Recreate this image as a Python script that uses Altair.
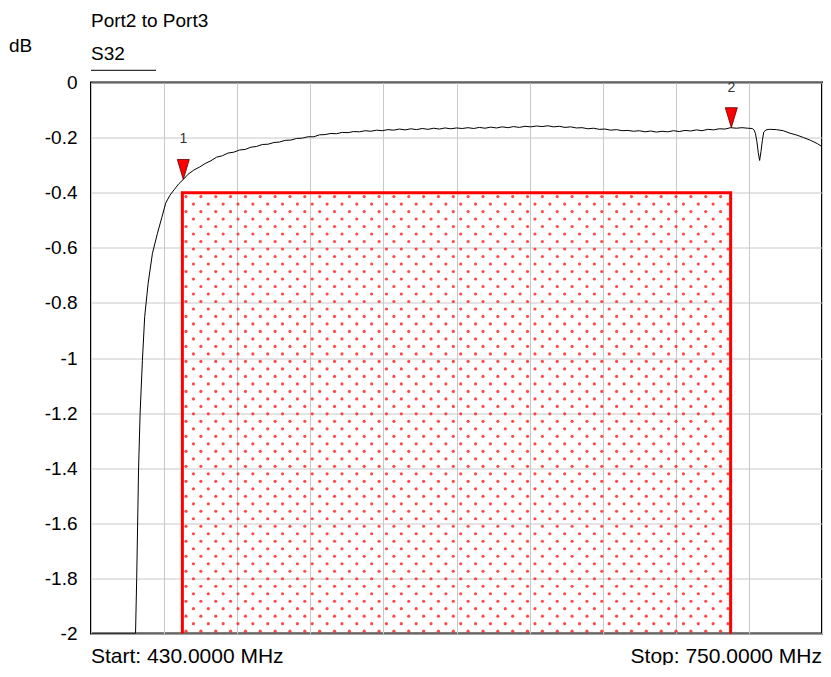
import altair as alt
import pandas as pd
import numpy as np

# ---- trace S32 (MHz, dB) ----
freq = [430, 440, 449.5, 450.0, 450.4, 450.8, 451.5, 452.5, 453.5, 455.0, 456.9, 459.1,
        461.0, 462.7, 464.5, 466.3, 468.5, 470.4,
        472.5, 475, 477.5, 480, 482.5, 485, 487.5, 490, 492.5, 495, 497.5, 500,
        502.5, 505, 507.5, 510, 512.5, 515, 517.5, 520, 522.5, 525, 527.5, 530,
        532.5, 535, 537.5, 540, 542.5, 545, 547.5, 550, 552.5, 555, 557.5, 560,
        562.5, 565, 567.5, 570, 572.5, 575, 577.5, 580, 582.5, 585, 587.5, 590,
        592.5, 595, 597.5, 600, 602.5, 605, 607.5, 610, 612.5, 615, 617.5, 620,
        622.5, 625, 627.5, 630, 632.5, 635, 637.5, 640, 642.5, 645, 647.5, 650,
        652.5, 655, 657.5, 660, 662.5, 665, 667.5, 670, 672.5, 675, 677.5, 680,
        682.5, 685, 687.5, 690, 692.5, 695, 697.5, 700, 702.5, 705, 707.5, 710,
        712.5, 715, 717.5, 719.5, 720.3, 720.9, 721.5, 722.1, 722.7, 723.3, 723.9,
        724.5, 725.5, 727, 730, 733, 736, 739, 742, 745, 748, 750]
s32 = [-2.0, -2.0, -2.0, -1.80, -1.61, -1.41, -1.20, -1.01, -0.85, -0.73, -0.62, -0.547,
       -0.49, -0.438, -0.41, -0.39, -0.367, -0.352,
       -0.333, -0.318, -0.307, -0.294, -0.284, -0.271, -0.266, -0.256, -0.253, -0.245, -0.243, -0.235,
       -0.232, -0.225, -0.224, -0.218, -0.216, -0.210, -0.209, -0.203, -0.202, -0.197, -0.197, -0.190,
       -0.189, -0.185, -0.186, -0.181, -0.182, -0.178, -0.179, -0.175, -0.177, -0.173, -0.175, -0.171,
       -0.173, -0.169, -0.172, -0.168, -0.171, -0.167, -0.170, -0.166, -0.169, -0.165, -0.168, -0.165,
       -0.167, -0.164, -0.167, -0.163, -0.166, -0.162, -0.165, -0.161, -0.164, -0.160, -0.163, -0.159,
       -0.161, -0.158, -0.160, -0.157, -0.161, -0.159, -0.163, -0.161, -0.165, -0.164, -0.168, -0.166,
       -0.170, -0.169, -0.173, -0.171, -0.175, -0.174, -0.177, -0.175, -0.179, -0.176, -0.180, -0.177,
       -0.179, -0.175, -0.178, -0.174, -0.176, -0.172, -0.175, -0.170, -0.172, -0.168, -0.169, -0.164,
       -0.166, -0.164, -0.166, -0.167, -0.173, -0.186, -0.215, -0.255, -0.283, -0.25, -0.21,
       -0.18, -0.172, -0.170, -0.171, -0.175, -0.184, -0.191, -0.200, -0.210, -0.222, -0.233]

# ---- markers ----
marker_freq = [470.4, 710.3]
marker_db = [-0.352, -0.164]
marker_label = ["1", "2"]

# ---- limit line (pass band mask) ----
limit_freq = [470, 470, 710, 710]
limit_db = [-2.0, -0.4, -0.4, -2.0]

# ---- axes ----
y_ticks = [0, -0.2, -0.4, -0.6, -0.8, -1, -1.2, -1.4, -1.6, -1.8, -2]
x_grid = [430, 462, 494, 526, 558, 590, 622, 654, 686, 718, 750]

FONT = "Liberation Sans"
GRID = "#c8c8c8"
W, H = 731, 551

trace_df = pd.DataFrame({"f": freq, "db": s32, "i": range(len(freq))})
marker_df = pd.DataFrame({"f": marker_freq, "db": marker_db, "lab": marker_label})
limit_df = pd.DataFrame({"f": limit_freq, "db": limit_db, "i": range(len(limit_freq))})

# dotted fill texture of the limit region (staggered lattice)
dot_dx, dot_dy = 6.5, 0.0272
rows = np.arange(limit_db[1] - 0.014, limit_db[0], -dot_dy)
dots = []
for k, yv in enumerate(rows):
    start = limit_freq[0] + 1.6 + (k % 2) * dot_dx / 2
    for xv in np.arange(start, limit_freq[2] - 0.8, dot_dx):
        dots.append({"f": float(xv), "db": float(yv)})
dot_df = pd.DataFrame(dots)

xs = alt.Scale(domain=[430, 750], nice=False, zero=False)
ys = alt.Scale(domain=[-2, 0], nice=False, zero=False)

x_axis = alt.Axis(values=x_grid, labels=False, ticks=False, domain=False, grid=True,
                  gridColor=GRID, gridOpacity=1, gridWidth=1, title=None)
y_axis = alt.Axis(values=y_ticks, labelExpr="'' + datum.value", labelFont=FONT,
                  labelFontSize=19, labelColor="black", labelPadding=14, ticks=False,
                  tickSize=0, domain=False, grid=True, gridColor=GRID, gridOpacity=1,
                  gridWidth=1, title=None)

X = alt.X("f:Q", scale=xs, axis=x_axis)
Y = alt.Y("db:Q", scale=ys, axis=y_axis)

dots_layer = alt.Chart(dot_df).mark_circle(size=10, color="#ff1a1a", opacity=0.8).encode(x=X, y=Y)

limit_layer = alt.Chart(limit_df).mark_line(color="#ff0000", strokeWidth=3).encode(
    x=X, y=Y, order="i:Q")

trace_layer = alt.Chart(trace_df).mark_line(color="black", strokeWidth=1, clip=True).encode(
    x=X, y=Y, order="i:Q")

marker_layer = alt.Chart(marker_df).mark_point(
    shape="M-0.6,-2L0.6,-2L0,0Z", size=400, filled=True, fill="#ff0000",
    stroke="#600000", strokeWidth=0.8, opacity=1
).encode(x=X, y=Y)

marker_text = alt.Chart(marker_df).mark_text(
    dy=-40, font=FONT, fontSize=14, color="#333333", baseline="middle", align="center"
).encode(x=X, y=Y, text="lab:N")

one = pd.DataFrame({"a": [0]})


def label(txt, x, y, size, align="left"):
    return alt.Chart(one).mark_text(
        text=txt, font=FONT, fontSize=size, color="black", align=align, baseline="alphabetic"
    ).encode(x=alt.value(x), y=alt.value(y))


title1 = label("Port2 to Port3", 0, -55.8, 19)
unit = label("dB", -82, -30.8, 19)
trace_name = label("S32", 0, -22.5, 19)
underline = alt.Chart(one).mark_rule(color="black", strokeWidth=1).encode(
    x=alt.value(0), x2=alt.value(65), y=alt.value(-12.2)
)
start_lbl = label("Start: 430.0000 MHz", 0, 580, 21)
stop_lbl = label("Stop: 750.0000 MHz", W, 580, 21, align="right")

chart = alt.layer(
    dots_layer, limit_layer, trace_layer, marker_layer, marker_text,
    title1, unit, trace_name, underline, start_lbl, stop_lbl
).properties(
    width=W, height=H,
    padding={"left": 83, "top": 74.5, "right": 1, "bottom": 31.5},
    autosize=alt.AutoSizeParams(type="none"),
    background="white",
).configure_view(stroke="black", strokeWidth=2)

chart.save("out.html", embed_options={"renderer": "svg", "actions": False})
